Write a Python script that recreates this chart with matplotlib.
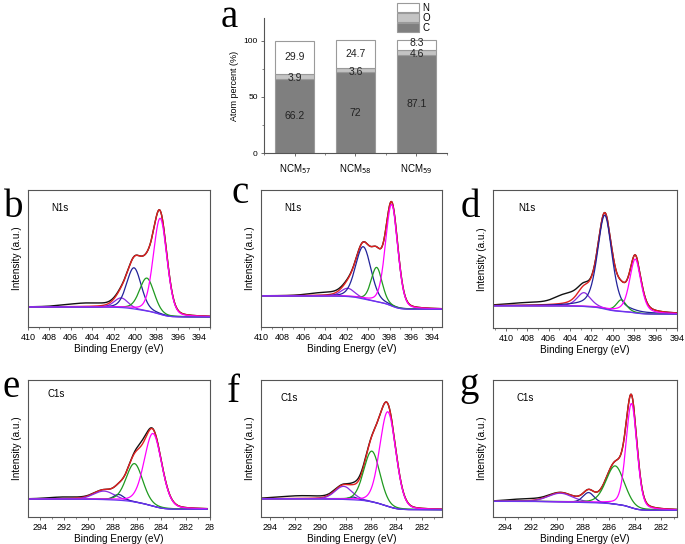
import matplotlib
matplotlib.use('Agg')
import matplotlib.pyplot as plt
from matplotlib.patches import Patch
from matplotlib.ticker import MultipleLocator
import numpy as np

# ---- panel a: atom percent ----
samples = ['NCM$_{57}$', 'NCM$_{58}$', 'NCM$_{59}$']
c_pct = [66.2, 72, 87.1]
o_pct = [3.9, 3.6, 4.6]
n_pct = [29.9, 24.7, 8.3]

# ---- XPS fits: components are [purple, blue, green, magenta] ----
# heights are above the Shirley background, intensity in a.u. (0-1)
b_pos = [401.3, 400.1, 398.9, 397.65]
b_amp = [0.07, 0.30, 0.24, 0.70]
b_fwhm = [1.5, 1.6, 1.6, 1.5]
b_base = [0.073, 0.146]
b_tail = [[404.5, 0.025, 4.5]]

c_pos = [401.9, 400.45, 399.2, 397.8]
c_amp = [0.06, 0.38, 0.25, 0.74]
c_fwhm = [1.5, 1.7, 1.2, 1.35]
c_base = [0.129, 0.227]
c_tail = [[404.0, 0.02, 3.5]]

d_pos = [402.7, 400.75, 399.2, 397.9]
d_amp = [0.10, 0.68, 0.085, 0.39]
d_fwhm = [1.5, 1.6, 1.1, 1.25]
d_base = [0.10, 0.161]
d_tail = [[404.3, 0.06, 2.5], [407.5, 0.02, 5.0]]

e_pos = [288.7, 287.5, 286.2, 284.68]
e_amp = [0.062, 0.042, 0.28, 0.53]
e_fwhm = [2.0, 1.0, 1.6, 1.7]
e_base = [0.056, 0.131]
e_tail = [[285.6, 0.03, 1.0], [292.0, 0.012, 3.0]]

f_pos = [288.17, 287.4, 285.94, 284.68]
f_amp = [0.095, 0.02, 0.37, 0.69]
f_fwhm = [1.6, 0.8, 1.5, 1.5]
f_base = [0.053, 0.133]
f_tail = [[291.5, 0.02, 4.0], [287.0, 0.02, 1.2]]

g_pos = [289.76, 287.6, 285.55, 284.3]
g_amp = [0.063, 0.073, 0.28, 0.76]
g_fwhm = [2.2, 1.0, 1.65, 1.0]
g_base = [0.049, 0.114]
g_tail = [[292.5, 0.015, 3.0]]

W, H = 685, 544
fig = plt.figure(figsize=(W / 100, H / 100), dpi=100)
plt.rcParams['font.family'] = ['Liberation Sans', 'DejaVu Sans']


def px_axes(l, t, r, b):
    return fig.add_axes([l / W, 1 - b / H, (r - l) / W, (b - t) / H])


def pv(x, c, h, w, m):
    g = np.exp(-4 * np.log(2) * (x - c) ** 2 / w ** 2)
    l = 1. / (1 + 4 * (x - c) ** 2 / w ** 2)
    return h * ((1 - m) * g + m * l)


comp_colors = ['#8a2be2', '#22229a', '#1f9a1f', '#ff00ff']
spine_col = '#555555'


def xps_panel(box, xlim, pos, amp, fwhm, base, tail, mix, label, lab_xy, ticks):
    ax = px_axes(*box)
    lo_x, hi_x = min(xlim), max(xlim)
    x = np.linspace(lo_x, hi_x, 800)
    comps = [pv(x, c, h, w, mix) for c, h, w in zip(pos, amp, fwhm)]
    total = np.sum(comps, axis=0)
    cum = np.cumsum(total)
    bg = base[0] + (base[1] - base[0]) * cum / cum[-1]
    env = bg + total
    raw = env.copy()
    for c, h, w in tail:
        raw += pv(x, c, h, w, 0.)
    ax.plot(x, raw, color='#111111', lw=1.0)
    ax.plot(x, env, color='#e02020', lw=1.0)
    for comp, col in zip(comps, comp_colors):
        ax.plot(x, bg + comp, color=col, lw=0.9)
    ax.plot(x, bg, color='#6a35f0', lw=0.9)
    ax.set_xlim(xlim)
    ax.set_ylim(0, 1)
    ax.set_yticks([])
    ax.set_xticks(ticks[0])
    ax.set_xticklabels(ticks[1])
    ax.xaxis.set_minor_locator(MultipleLocator(1))
    ax.tick_params(axis='x', which='major', labelsize=6.5, length=2.5,
                   width=0.6, color=spine_col, pad=2)
    ax.tick_params(axis='x', which='minor', length=1.5, width=0.5,
                   color=spine_col)
    for s in ax.spines.values():
        s.set_color(spine_col)
        s.set_linewidth(0.8)
    ax.set_xlabel('Binding Energy (eV)', fontsize=7.2, labelpad=1)
    ax.set_ylabel('Intensity (a.u.)', fontsize=7.2, labelpad=4)
    ax.text(lab_xy[0], lab_xy[1], label, transform=ax.transAxes,
            fontsize=7, va='center', ha='left')
    return ax


n_ticks = (list(range(410, 393, -2)), [str(v) for v in range(410, 393, -2)])
xps_panel((28, 190, 210, 327), (410, 393), b_pos, b_amp, b_fwhm, b_base,
          b_tail, 0.2, 'N1s', (0.13, 0.87), n_ticks)
xps_panel((261, 190, 442, 327), (410, 393.1), c_pos, c_amp, c_fwhm, c_base,
          c_tail, 0.2, 'N1s', (0.13, 0.87), n_ticks)
xps_panel((493, 190, 677, 328), (411.2, 394), d_pos, d_amp, d_fwhm, d_base,
          d_tail, 0.45, 'N1s', (0.136, 0.87), n_ticks)

e_ticks = (list(range(294, 279, -2)),
           [str(v) for v in range(294, 281, -2)] + ['28'])
c_ticks = (list(range(294, 281, -2)), [str(v) for v in range(294, 281, -2)])
xps_panel((28, 380, 210, 517), (294.95, 280.25), e_pos, e_amp, e_fwhm,
          e_base, e_tail, 0.2, 'C1s', (0.105, 0.9), e_ticks)
xps_panel((261, 380, 442, 517), (294.7, 280.4), f_pos, f_amp, f_fwhm,
          f_base, f_tail, 0.15, 'C1s', (0.105, 0.87), c_ticks)
xps_panel((493, 380, 677, 517), (294.95, 280.8), g_pos, g_amp, g_fwhm,
          g_base, g_tail, 0.25, 'C1s', (0.13, 0.87), c_ticks)

# ---- panel a ----
ax = px_axes(264, 18, 447, 153)
xs = np.arange(1, len(samples) + 1)
edge = '#9a9a9a'
bw = 0.65
o_bot = np.array(c_pct)
n_bot = o_bot + np.array(o_pct)
ax.bar(xs, c_pct, bw, color='#7f7f7f', edgecolor=edge, lw=0.8)
ax.bar(xs, o_pct, bw, bottom=o_bot, color='#c4c4c4', edgecolor=edge, lw=0.8)
ax.bar(xs, n_pct, bw, bottom=n_bot, color='white', edgecolor=edge, lw=0.8)
for i in range(len(xs)):
    ax.text(xs[i], c_pct[i] / 2, str(c_pct[i]), ha='center', va='center',
            fontsize=7.5, color='#222222')
    ax.text(xs[i], o_bot[i] + o_pct[i] / 2 - 1.5, str(o_pct[i]), ha='center',
            va='center', fontsize=7.5, color='#222222')
    ax.text(xs[i], n_bot[i] + n_pct[i] / 2 + (1.5 if i == 2 else 0),
            str(n_pct[i]), ha='center', va='center', fontsize=7.5,
            color='#222222')
ax.set_xlim(0.5, 3.5)
ax.set_ylim(0, 120)
ax.set_xticks(xs)
ax.set_xticklabels(samples)
ax.set_yticks([0, 50, 100])
ax.xaxis.set_minor_locator(MultipleLocator(0.5))
ax.yaxis.set_minor_locator(MultipleLocator(25))
ax.spines['top'].set_visible(False)
ax.spines['right'].set_visible(False)
for s in ['left', 'bottom']:
    ax.spines[s].set_color(spine_col)
    ax.spines[s].set_linewidth(0.8)
ax.tick_params(which='major', labelsize=6, length=2.5, width=0.6,
               color=spine_col, pad=2)
ax.tick_params(which='minor', length=1.5, width=0.5, color=spine_col)
ax.tick_params(axis='x', labelsize=7, pad=4)
ax.set_ylabel('Atom percent (%)', fontsize=6.5, labelpad=3)
handles = [Patch(facecolor='white', edgecolor=edge, lw=0.8),
           Patch(facecolor='#c4c4c4', edgecolor=edge, lw=0.8),
           Patch(facecolor='#7f7f7f', edgecolor=edge, lw=0.8)]
fig.legend(handles, ['N', 'O', 'C'], loc='upper left',
           bbox_to_anchor=(397 / W, 1 - 3 / H), frameon=False, fontsize=7,
           handlelength=2.3, handleheight=1.0, labelspacing=0.0,
           handletextpad=0.3, borderpad=0, borderaxespad=0)

# ---- panel letters ----
letters = ['a', 'b', 'c', 'd', 'e', 'f', 'g']
letter_xy = [(221, 27), (4, 217), (231, 203), (461, 217), (2, 397),
             (227, 402), (459, 395)]
for t, (lx, ly) in zip(letters, letter_xy):
    fig.text(lx / W, 1 - ly / H, t, fontsize=28, va='baseline', ha='left',
             family=['Liberation Serif', 'DejaVu Serif'])

fig.savefig('out.png', dpi=100)
